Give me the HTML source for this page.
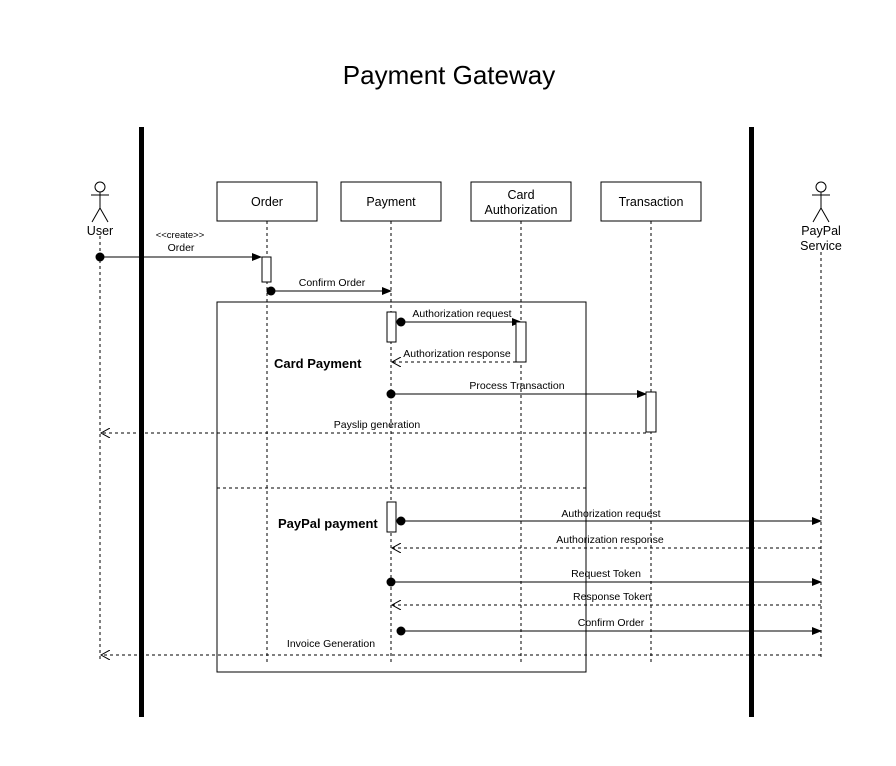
<!DOCTYPE html>
<html><head><style>body{margin:0;background:#fff}svg{display:block}</style></head><body>
<svg width="896" height="766" viewBox="0 0 896 766" xmlns="http://www.w3.org/2000/svg" font-family="Liberation Sans, sans-serif">
<defs>
<marker id="f" markerWidth="10" markerHeight="8" refX="9" refY="4" orient="auto" markerUnits="userSpaceOnUse"><path d="M0,0 L10,4 L0,8 Z" fill="#000"/></marker>
<marker id="o" markerWidth="10" markerHeight="10" refX="9" refY="5" orient="auto" markerUnits="userSpaceOnUse"><path d="M0,0 L9,5 L0,10" fill="none" stroke="#000"/></marker>
</defs>
<rect width="896" height="766" fill="#fff"/>
<text x="449" y="84" font-size="26" text-anchor="middle">Payment Gateway</text>
<g stroke="#000" stroke-dasharray="3,3" fill="none">
<line x1="100" y1="236" x2="100" y2="660"/>
<line x1="267" y1="221" x2="267" y2="662"/>
<line x1="391" y1="221" x2="391" y2="662"/>
<line x1="521" y1="221" x2="521" y2="662"/>
<line x1="651" y1="221" x2="651" y2="662"/>
<line x1="821" y1="252" x2="821" y2="660"/>
</g>
<g stroke="#000" fill="#fff">
<rect x="217" y="182" width="100" height="39"/>
<rect x="341" y="182" width="100" height="39"/>
<rect x="471" y="182" width="100" height="39"/>
<rect x="601" y="182" width="100" height="39"/>
</g>
<g font-size="12.5" text-anchor="middle">
<text x="267" y="206">Order</text>
<text x="391" y="206">Payment</text>
<text x="521" y="199">Card</text>
<text x="521" y="214">Authorization</text>
<text x="651" y="206">Transaction</text>
<text x="100" y="235">User</text>
<text x="821" y="235">PayPal</text>
<text x="821" y="250">Service</text>
</g>
<g stroke="#000" fill="none">
<circle cx="100" cy="187" r="5"/><line x1="100" y1="192" x2="100" y2="208"/><line x1="91" y1="195" x2="109" y2="195"/><line x1="100" y1="208" x2="92" y2="222"/><line x1="100" y1="208" x2="108" y2="222"/>
<circle cx="821" cy="187" r="5"/><line x1="821" y1="192" x2="821" y2="208"/><line x1="812" y1="195" x2="830" y2="195"/><line x1="821" y1="208" x2="813" y2="222"/><line x1="821" y1="208" x2="829" y2="222"/>
<rect x="217" y="302" width="369" height="370"/>
<line x1="217" y1="488" x2="586" y2="488" stroke-dasharray="3,3"/>
</g>
<g stroke="#000" fill="none">
<line x1="100" y1="257" x2="261" y2="257" marker-end="url(#f)"/>
<line x1="271" y1="291" x2="391" y2="291" marker-end="url(#f)"/>
<line x1="401" y1="322" x2="521" y2="322" marker-end="url(#f)"/>
<line x1="516" y1="362" x2="392" y2="362" stroke-dasharray="3,3" marker-end="url(#o)"/>
<line x1="391" y1="394" x2="646" y2="394" marker-end="url(#f)"/>
<line x1="646" y1="433" x2="101" y2="433" stroke-dasharray="3,3" marker-end="url(#o)"/>
<line x1="401" y1="521" x2="821" y2="521" marker-end="url(#f)"/>
<line x1="821" y1="548" x2="392" y2="548" stroke-dasharray="3,3" marker-end="url(#o)"/>
<line x1="391" y1="582" x2="821" y2="582" marker-end="url(#f)"/>
<line x1="821" y1="605" x2="392" y2="605" stroke-dasharray="3,3" marker-end="url(#o)"/>
<line x1="401" y1="631" x2="821" y2="631" marker-end="url(#f)"/>
<line x1="821" y1="655" x2="101" y2="655" stroke-dasharray="3,3" marker-end="url(#o)"/>
</g>
<g stroke="#000" fill="#fff">
<rect x="262" y="257" width="9" height="25"/>
<rect x="387" y="312" width="9" height="30"/>
<rect x="516" y="322" width="10" height="40"/>
<rect x="646" y="392" width="10" height="40"/>
<rect x="387" y="502" width="9" height="30"/>
</g>
<g fill="#000">
<circle cx="100" cy="257" r="4.5"/><circle cx="271" cy="291" r="4.5"/><circle cx="401" cy="322" r="4.5"/>
<circle cx="391" cy="394" r="4.5"/><circle cx="401" cy="521" r="4.5"/><circle cx="391" cy="582" r="4.5"/><circle cx="401" cy="631" r="4.5"/>
<rect x="139" y="127" width="5" height="590"/>
<rect x="749" y="127" width="5" height="590"/>
</g>
<g font-size="10.5" text-anchor="middle">
<text x="180" y="238" font-size="9.5">&lt;&lt;create&gt;&gt;</text>
<text x="181" y="251">Order</text>
<text x="332" y="286">Confirm Order</text>
<text x="462" y="317">Authorization request</text>
<text x="457" y="357">Authorization response</text>
<text x="517" y="389">Process Transaction</text>
<text x="377" y="428">Payslip generation</text>
<text x="611" y="517">Authorization request</text>
<text x="610" y="543">Authorization response</text>
<text x="606" y="577">Request Token</text>
<text x="612" y="600">Response Token</text>
<text x="611" y="626">Confirm Order</text>
<text x="331" y="647">Invoice Generation</text>
</g>
<text x="274" y="368" font-size="13" font-weight="bold">Card Payment</text>
<text x="278" y="528" font-size="13" font-weight="bold">PayPal payment</text>
</svg>
</body></html>
